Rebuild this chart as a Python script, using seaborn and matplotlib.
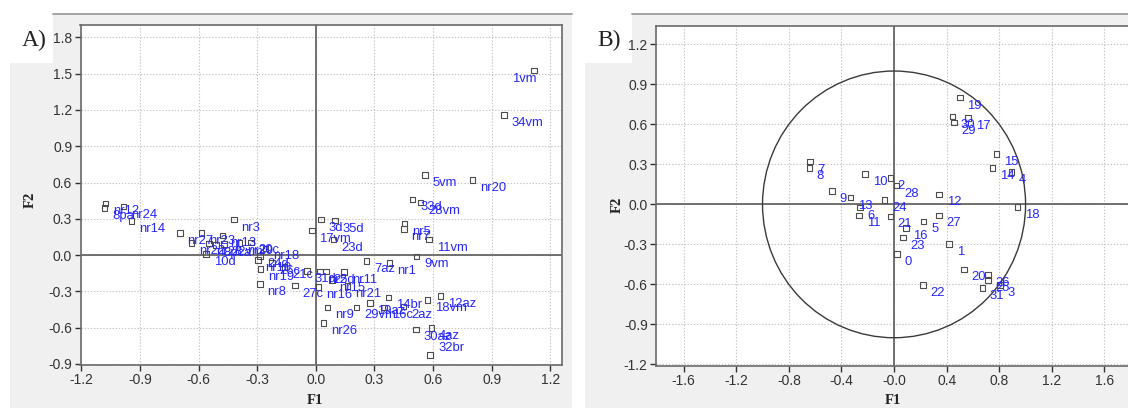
import matplotlib
matplotlib.use("Agg")
import matplotlib.pyplot as plt
from matplotlib.patches import Rectangle, Circle
from matplotlib.lines import Line2D
import pandas as pd
import seaborn as sns

# ---- Panel A: sample scores on F1 / F2 ----
labels_a = ["nr12", "8pa", "nr24", "nr14", "nr27", "nr22", "nr23", "nr28", "10d", "nr13",
            "22vm", "8pca", "nr3", "nr29", "20c", "24d", "nr10", "nr19", "nr8", "nr18",
            "26c", "21c", "31d", "27c", "nr2", "25d", "nr16", "nr15", "nr11", "nr21",
            "nr9", "nr26", "29vm", "19az", "16c", "2az", "14br", "18vm", "12az", "30az",
            "4az", "32br", "7az", "nr1", "9vm", "nr5", "nr7", "11vm", "33d", "28vm",
            "5vm", "nr20", "34vm", "1vm", "3d", "35d", "17vm", "23d"]
f1_a = [-1.076, -1.081, -0.986, -0.945, -0.695, -0.637, -0.586, -0.548, -0.562, -0.479,
        -0.470, -0.510, -0.420, -0.390, -0.332, -0.286, -0.296, -0.284, -0.286, -0.259,
        -0.225, -0.160, -0.046, -0.106, 0.022, 0.051, 0.014, 0.082, 0.145, 0.163,
        0.060, 0.039, 0.208, 0.277, 0.349, 0.448, 0.371, 0.572, 0.638, 0.513,
        0.592, 0.584, 0.260, 0.378, 0.516, 0.454, 0.450, 0.580, 0.495, 0.536,
        0.558, 0.802, 0.962, 1.117, 0.027, 0.099, -0.020, 0.090]
f2_a = [0.428, 0.388, 0.400, 0.280, 0.183, 0.100, 0.183, 0.094, 0.011, 0.163,
        0.090, 0.085, 0.294, 0.100, 0.105, -0.010, -0.043, -0.117, -0.239, 0.055,
        -0.067, -0.100, -0.131, -0.253, -0.137, -0.137, -0.262, -0.206, -0.142, -0.255,
        -0.433, -0.561, -0.433, -0.395, -0.433, -0.425, -0.350, -0.373, -0.339, -0.614,
        -0.603, -0.828, -0.050, -0.067, -0.011, 0.260, 0.215, 0.128, 0.461, 0.433,
        0.661, 0.619, 1.160, 1.525, 0.294, 0.286, 0.203, 0.128]

# ---- Panel B: variable loadings on F1 / F2 ----
labels_b = [str(i) for i in range(32)]
f1_b = [0.023, 0.419, -0.028, 0.805, 0.894, 0.225, -0.258, -0.641, -0.644, -0.472,
        -0.220, -0.265, 0.343, -0.330, 0.750, 0.780, 0.089, 0.563, 0.937, 0.500,
        0.533, -0.028, 0.218, 0.066, -0.073, 0.715, 0.715, 0.343, 0.020, 0.455,
        0.445, 0.672]
f2_b = [-0.373, -0.296, 0.199, -0.603, 0.243, -0.127, -0.025, 0.320, 0.273, 0.099,
        0.226, -0.082, 0.075, 0.050, 0.274, 0.378, -0.177, 0.646, -0.020, 0.800,
        -0.487, -0.090, -0.603, -0.248, 0.032, -0.567, -0.529, -0.082, 0.142, 0.614,
        0.659, -0.629]

xticks_a = [-1.2, -0.9, -0.6, -0.3, 0.0, 0.3, 0.6, 0.9, 1.2]
xtick_labels_a = ["-1.2", "-0.9", "-0.6", "-0.3", "0.0", "0.3", "0.6", "0.9", "1.2"]
yticks_a = [-0.9, -0.6, -0.3, 0.0, 0.3, 0.6, 0.9, 1.2, 1.5, 1.8]
ytick_labels_a = ["-0.9", "-0.6", "-0.3", "0.0", "0.3", "0.6", "0.9", "1.2", "1.5", "1.8"]
xticks_b = [-1.6, -1.2, -0.8, -0.4, 0.0, 0.4, 0.8, 1.2, 1.6]
xtick_labels_b = ["-1.6", "-1.2", "-0.8", "-0.4", "-0.0", "0.4", "0.8", "1.2", "1.6"]
yticks_b = [-1.2, -0.9, -0.6, -0.3, 0.0, 0.3, 0.6, 0.9, 1.2]
ytick_labels_b = ["-1.2", "-0.9", "-0.6", "-0.3", "0.0", "0.3", "0.6", "0.9", "1.2"]

sns.set_theme(style="white")
plt.rcParams["font.family"] = ["Liberation Sans", "DejaVu Sans"]

W, H = 1128, 408
fig = plt.figure(figsize=(W / 100, H / 100), dpi=100)
fig.patch.set_facecolor("white")


def fx(px):
    return px / W


def fy(py):
    return 1 - py / H


PANEL_GREY = "#f0f0f0"
LABEL_BLUE = "#2626ff"


def panel_frame(x0, x1, box_x1, title, title_cx):
    # grey window background, white title tab and top rule
    fig.add_artist(Rectangle((fx(x0), 0), fx(x1) - fx(x0), fy(13), transform=fig.transFigure,
                             fc=PANEL_GREY, ec="none", zorder=-3))
    fig.add_artist(Rectangle((fx(x0 - 1), fy(63)), fx(box_x1) - fx(x0 - 1), fy(13) - fy(63),
                             transform=fig.transFigure, fc="white", ec="none", zorder=-2))
    fig.add_artist(Line2D([fx(box_x1), fx(x1)], [fy(13.5), fy(13.5)], transform=fig.transFigure,
                          color="#9c9c9c", lw=1.3, zorder=-1))
    fig.text(fx(title_cx), fy(40), title, ha="center", va="center", fontsize=17,
             family=["Liberation Serif", "DejaVu Serif"], color="#222222")


panel_frame(10, 572, 53, "A)", 34)
panel_frame(585, 1128, 632, "B)", 609)


def style_axes(ax, xlim, ylim, xt, xtl, yt, ytl):
    ax.set_facecolor("white")
    ax.set_xlim(*xlim)
    ax.set_ylim(*ylim)
    ax.set_xticks(xt)
    ax.set_xticklabels(xtl)
    ax.set_yticks(yt)
    ax.set_yticklabels(ytl)
    ax.grid(True, linestyle=(0, (1.2, 1.6)), color="#c4c4c4", linewidth=0.8)
    ax.set_axisbelow(True)
    ax.axhline(0, color="#5a5a5a", lw=1.2, zorder=1.5)
    ax.axvline(0, color="#5a5a5a", lw=1.2, zorder=1.5)
    for s in ax.spines.values():
        s.set_color("#6a6a6a")
        s.set_linewidth(1.2)
    ax.tick_params(axis="both", direction="out", length=4, width=1.0, colors="#333333",
                   labelsize=10, bottom=True, left=True, pad=2)
    ax.set_xlabel("")
    ax.set_ylabel("")


def scatter_labels(ax, xs, ys, labs, fontsize, special=None):
    sns.scatterplot(x=xs, y=ys, ax=ax, marker="s", s=16, facecolor="none",
                    edgecolor="#4d4d4d", linewidth=0.8, zorder=3, legend=False)
    special = special or {}
    for x, y, lab in zip(xs, ys, labs):
        dx, dy, ha = special.get(lab, (5.4, -5.8, "left"))
        ax.annotate(lab, (x, y), xytext=(dx, dy), textcoords="offset points",
                    ha=ha, va="center", color=LABEL_BLUE, fontsize=fontsize, zorder=4,
                    annotation_clip=False)


# Panel A axes
ax_a = fig.add_axes([fx(80.5), fy(364.5), fx(562) - fx(80.5), fy(25.3) - fy(364.5)])
style_axes(ax_a, (-1.205, 1.26), (-0.905, 1.90), xticks_a, xtick_labels_a, yticks_a, ytick_labels_a)
scatter_labels(ax_a, f1_a, f2_a, labels_a, 9.4,
               special={"1vm": (1.5, -6.0, "right"), "32br": (5.8, 5.0, "left")})

# Panel B axes (window continues past the right edge)
ax_b = fig.add_axes([fx(656), fy(366), fx(1140) - fx(656), fy(25.7) - fy(366)])
style_axes(ax_b, (-1.81, 1.87), (-1.212, 1.34), xticks_b, xtick_labels_b, yticks_b, ytick_labels_b)
ax_b.add_patch(Circle((0, 0), 1.0, fill=False, ec="#3a3a3a", lw=1.0, zorder=2))
scatter_labels(ax_b, f1_b, f2_b, labels_b, 9.4)

# axis titles
serif = ["Liberation Serif", "DejaVu Serif"]
for cx, cy, txt, rot in [(315, 400, "F1", 0), (893, 400, "F1", 0),
                         (30, 200, "F2", 90), (617, 205, "F2", 90)]:
    fig.text(fx(cx), fy(cy), txt, ha="center", va="center", rotation=rot,
             fontsize=10.5, fontweight="bold", family=serif, color="#222222")

fig.savefig("out.png", dpi=100, facecolor=fig.get_facecolor())
